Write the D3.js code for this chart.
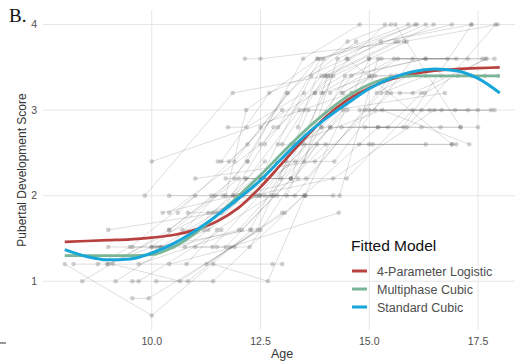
<!DOCTYPE html>
<html>
<head>
<meta charset="utf-8">
<script src="https://cdn.jsdelivr.net/npm/d3@7"></script>
<style>
  body { margin: 0; background: #fff; }
  svg { display: block; font-family: "Liberation Sans", Arial, sans-serif; }
</style>
</head>
<body>
<div id="chart"></div>
<script>
// individual trajectories [age, score]
const subjects = [
  [[8.0,1.2],[10.0,0.6],[12.3,1.6]],
  [[8.2,1.2],[12.78,1.2],[13.0,1.2]],
  [[8.4,1.0],[10.4,1.6],[11.45,2.0]],
  [[8.76,1.2],[9.5,1.4],[11.0,2.0]],
  [[8.97,1.2],[10.0,1.4],[12.0,2.2]],
  [[9.1,1.2],[10.65,1.0],[13.0,1.8]],
  [[9.0,1.6],[11.5,1.8],[13.3,2.4]],
  [[9.0,1.4],[10.2,1.4],[12.1,2.0]],
  [[9.17,1.0],[11.0,1.6],[12.6,2.4]],
  [[9.55,0.8],[9.93,0.8],[12.5,1.6]],
  [[9.55,1.0],[9.7,1.0],[11.6,1.6]],
  [[9.56,1.4],[10.4,1.4],[12.2,2.4]],
  [[9.84,2.0],[11.86,3.2],[14.0,3.4]],
  [[10.0,2.4],[14.6,3.2]],
  [[10.1,1.0],[11.41,1.0],[13.5,2.0]],
  [[10.4,2.0],[12.0,2.0],[13.9,2.8]],
  [[10.25,1.8],[11.9,2.0],[13.4,3.0]],
  [[10.4,1.8],[12.5,2.6],[14.1,3.4]],
  [[10.6,1.8],[12.2,2.6],[13.8,3.6]],
  [[10.83,1.8],[11.6,1.8],[12.8,2.8]],
  [[10.4,1.6],[11.9,2.2],[13.1,3.2]],
  [[10.7,1.6],[11.2,1.6],[12.6,2.2]],
  [[10.2,1.4],[11.3,1.6],[13.3,2.6]],
  [[10.5,1.4],[12.0,1.6],[14.1,2.8]],
  [[10.76,1.4],[12.4,2.0],[14.4,3.0]],
  [[11.0,1.4],[11.7,1.4],[13.2,2.2]],
  [[10.83,1.0],[11.8,1.4],[14.3,1.8]],
  [[11.26,1.2],[13.06,1.8],[15.2,2.8]],
  [[11.41,1.2],[12.67,1.0],[13.52,2.0],[15.0,3.6]],
  [[12.14,3.6],[12.5,3.6],[15.8,3.8],[17.95,4.0]],
  [[11.6,2.4],[12.7,3.2],[14.48,3.6],[16.3,4.0]],
  [[11.9,2.4],[13.13,3.2],[14.5,3.8],[15.5,4.0]],
  [[12.2,2.4],[13.48,3.6],[14.78,4.0]],
  [[12.5,2.8],[13.75,3.2],[15.36,4.0]],
  [[11.7,2.0],[12.17,3.0],[13.82,3.6],[16.9,4.0]],
  [[12.9,2.8],[13.88,3.6],[15.9,4.0]],
  [[13.36,2.8],[13.95,3.6],[16.1,4.0]],
  [[12.5,2.2],[13.67,3.4],[14.7,3.8]],
  [[12.6,2.6],[13.9,3.4],[15.27,3.8],[17.35,4.0]],
  [[13.0,2.6],[13.98,3.4],[15.6,3.8]],
  [[13.2,2.2],[14.05,3.4],[15.67,3.8],[16.48,4.0]],
  [[12.8,2.0],[14.17,3.4],[15.86,3.8]],
  [[13.5,2.4],[14.27,3.6],[16.05,4.0]],
  [[13.1,2.0],[14.44,3.4],[16.3,3.6]],
  [[13.4,2.6],[14.59,3.4],[16.29,3.6],[17.88,3.6]],
  [[13.75,3.2],[14.99,3.6],[16.8,3.6]],
  [[13.9,3.2],[15.28,3.6],[17.0,3.6]],
  [[14.1,3.2],[15.57,3.6],[17.27,3.6]],
  [[14.4,3.2],[15.66,3.6],[17.6,3.6]],
  [[13.94,3.2],[15.05,3.4],[16.66,3.4]],
  [[14.36,3.2],[15.13,3.4],[17.04,3.4]],
  [[14.74,3.2],[15.66,3.4],[17.35,3.4]],
  [[15.17,3.2],[15.9,3.4],[17.66,3.4]],
  [[15.28,3.2],[16.3,3.4],[17.96,3.4]],
  [[15.4,3.2],[16.0,3.2],[17.7,3.6]],
  [[15.7,3.2],[16.28,3.2],[17.67,3.6]],
  [[13.5,3.0],[14.2,3.0],[16.74,3.2]],
  [[14.78,3.0],[16.2,3.0],[17.8,3.0]],
  [[14.9,3.0],[16.39,3.0],[17.88,3.0]],
  [[15.0,3.0],[16.97,3.0],[17.5,3.0]],
  [[15.13,3.0],[16.66,3.0],[17.27,3.0]],
  [[14.9,2.8],[16.2,2.8],[17.5,2.8]],
  [[15.2,2.8],[16.64,2.8],[17.1,2.8]],
  [[14.1,2.8],[15.43,2.8],[16.2,3.2]],
  [[13.9,2.8],[15.78,2.8],[17.35,4.0]],
  [[14.36,2.8],[15.86,2.8],[17.9,4.0]],
  [[13.5,2.6],[15.0,2.6],[17.0,2.6]],
  [[12.9,2.6],[14.77,2.6],[16.3,2.6]],
  [[13.36,2.6],[15.08,2.6],[16.9,2.6]],
  [[13.2,2.6],[15.3,3.0],[17.3,2.6]],
  [[11.4,1.8],[12.83,2.4],[14.2,2.4],[16.0,3.6]],
  [[11.0,2.2],[13.75,2.4],[15.5,3.2]],
  [[11.7,2.2],[12.5,2.2],[13.2,2.2],[15.0,3.4]],
  [[12.14,2.2],[12.97,2.2],[14.5,3.0]],
  [[12.17,2.2],[13.36,2.2],[14.48,2.2],[16.0,3.0]],
  [[12.0,2.0],[13.55,2.2],[15.6,3.4]],
  [[12.3,2.0],[14.17,2.2],[16.5,3.0]],
  [[11.37,2.0],[12.6,2.0],[14.32,2.0],[15.2,3.6]],
  [[11.64,2.0],[12.88,2.0],[14.17,2.0]],
  [[11.87,2.0],[13.29,2.0],[15.5,3.4]],
  [[9.0,1.2],[11.3,1.8],[12.5,2.0],[14.6,3.2]],
  [[10.0,1.4],[11.4,1.4],[12.47,2.0],[13.54,2.0]],
  [[10.8,1.2],[11.5,1.6],[12.75,2.0]],
  [[9.7,1.2],[12.07,1.6],[14.0,2.6]],
  [[10.1,1.4],[12.26,1.6],[13.1,2.4]],
  [[10.4,1.2],[11.9,1.4],[12.43,1.6],[13.6,3.0]],
  [[11.5,1.4],[12.25,1.4],[13.8,2.6]],
  [[11.75,2.8],[12.18,2.8],[13.5,3.2]],
  [[11.52,2.4],[11.78,2.4],[13.0,3.0]],
  [[15.6,4.0],[17.1,2.8]],
  [[14.5,3.6],[16.9,2.6]]
];

// fitted curves
const fitAges = [8, 8.5, 9, 9.5, 10, 10.5, 11, 11.5, 12, 12.5, 13, 13.5, 14, 14.5, 15, 15.5, 16, 16.5, 17, 17.5, 18];
const logistic4 = [1.46, 1.47, 1.48, 1.49, 1.51, 1.54, 1.6, 1.7, 1.86, 2.1, 2.38, 2.66, 2.92, 3.12, 3.26, 3.36, 3.42, 3.46, 3.48, 3.49, 3.5];
const multiphase = [1.3, 1.3, 1.3, 1.3, 1.31, 1.4, 1.56, 1.77, 2.0, 2.24, 2.5, 2.75, 2.97, 3.16, 3.3, 3.38, 3.4, 3.4, 3.4, 3.4, 3.4];
const stdCubic = [1.37, 1.29, 1.25, 1.26, 1.33, 1.44, 1.59, 1.77, 1.97, 2.18, 2.44, 2.69, 2.9, 3.08, 3.25, 3.37, 3.45, 3.48, 3.46, 3.37, 3.2];

const xTicks = [10, 12.5, 15, 17.5];
const yTicks = [1, 2, 3, 4];
const modelNames = ['4-Parameter Logistic', 'Multiphase Cubic', 'Standard Cubic'];
const modelColors = ['#b8403f', '#78b596', '#17a6da'];

const W = 515, H = 361;
const svg = d3.select('#chart').append('svg').attr('width', W).attr('height', H);

const x = d3.scaleLinear().domain([7.5, 18.5]).range([43, 521.5]);
const y = d3.scaleLinear().domain([0.43, 4.17]).range([330, 10]);

// grid
svg.append('g').selectAll('line').data(yTicks).enter().append('line')
  .attr('x1', 43).attr('x2', W)
  .attr('y1', d => y(d)).attr('y2', d => y(d))
  .attr('stroke', '#e6e6e6').attr('stroke-width', 1);
svg.append('g').selectAll('line').data(xTicks).enter().append('line')
  .attr('x1', d => x(d)).attr('x2', d => x(d))
  .attr('y1', 10).attr('y2', 330)
  .attr('stroke', '#e6e6e6').attr('stroke-width', 1);

// spaghetti
const line = d3.line().x(d => x(d[0])).y(d => y(d[1]));
svg.append('g').selectAll('path').data(subjects).enter().append('path')
  .attr('d', line).attr('fill', 'none')
  .attr('stroke', '#000').attr('stroke-opacity', 0.17).attr('stroke-width', 0.8);

svg.append('g').selectAll('circle').data(subjects.flat()).enter().append('circle')
  .attr('cx', d => x(d[0])).attr('cy', d => y(d[1])).attr('r', 2.3)
  .attr('fill', '#666').attr('fill-opacity', 0.3);

// fitted models
const fits = [logistic4, multiphase, stdCubic];
const fitLine = d3.line().curve(d3.curveMonotoneX)
  .x((d, i) => x(fitAges[i])).y(d => y(d));
fits.forEach((vals, i) => {
  svg.append('path').datum(vals)
    .attr('d', fitLine).attr('fill', 'none')
    .attr('stroke', modelColors[i]).attr('stroke-width', i === 2 ? 3 : 2.7)
    .attr('stroke-linecap', 'butt');
});

// axes labels
svg.append('g').selectAll('text').data(xTicks).enter().append('text')
  .attr('x', d => x(d)).attr('y', 345)
  .attr('text-anchor', 'middle').attr('font-size', 10.5).attr('fill', '#4d4d4d')
  .text(d => d3.format('.1f')(d));
svg.append('g').selectAll('text').data(yTicks).enter().append('text')
  .attr('x', 37).attr('y', d => y(d) + 3.5)
  .attr('text-anchor', 'end').attr('font-size', 10.5).attr('fill', '#4d4d4d')
  .text(d => d);

svg.append('text').attr('x', 282).attr('y', 358)
  .attr('text-anchor', 'middle').attr('font-size', 12.5).attr('fill', '#333')
  .text('Age');
svg.append('text')
  .attr('transform', 'translate(26,170) rotate(-90)')
  .attr('text-anchor', 'middle').attr('font-size', 12).attr('fill', '#333')
  .text('Pubertal Development Score');

svg.append('text').attr('x', 9).attr('y', 22)
  .attr('font-family', '"Liberation Serif", "Times New Roman", serif')
  .attr('font-size', 19).attr('fill', '#111').text('B.');
svg.append('line').attr('x1', 0).attr('x2', 6).attr('y1', 343).attr('y2', 343)
  .attr('stroke', '#333').attr('stroke-width', 1);

// legend
const lg = svg.append('g').attr('transform', 'translate(351,0)');
lg.append('text').attr('x', 0).attr('y', 251)
  .attr('font-size', 15.5).attr('fill', '#111').text('Fitted Model');
modelNames.forEach((name, i) => {
  const yy = 271 + i * 18;
  lg.append('line').attr('x1', 1).attr('x2', 16).attr('y1', yy).attr('y2', yy)
    .attr('stroke', modelColors[i]).attr('stroke-width', 3);
  lg.append('text').attr('x', 26).attr('y', yy + 4.5)
    .attr('font-size', 12.5).attr('fill', '#4d4d4d').text(name);
});
</script>
</body>
</html>
